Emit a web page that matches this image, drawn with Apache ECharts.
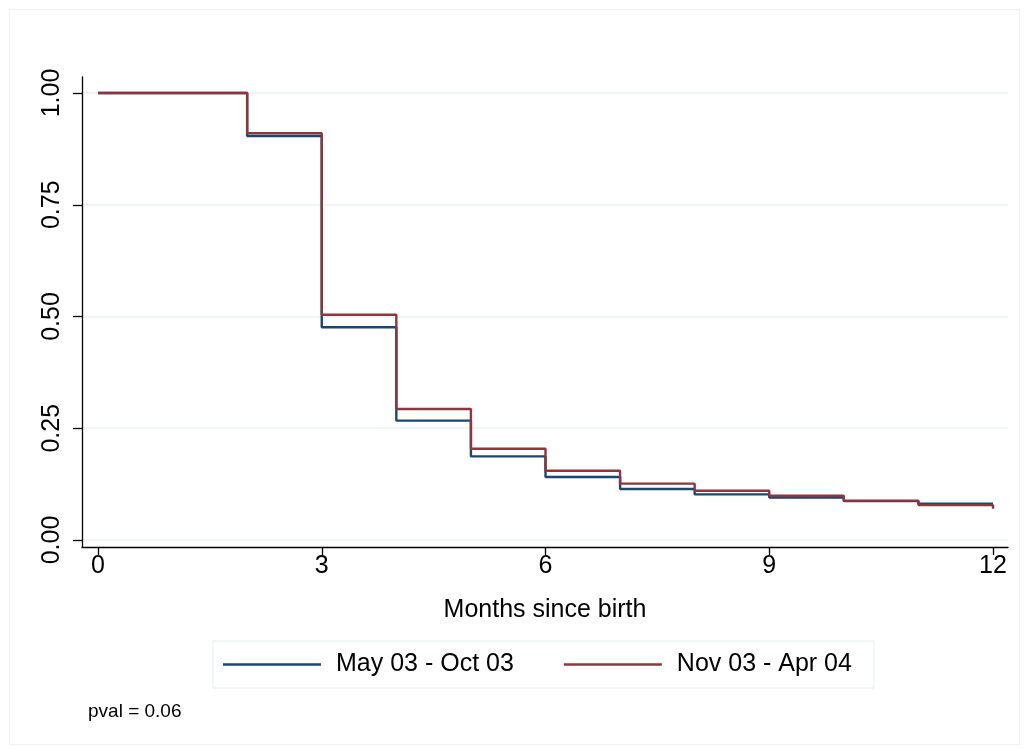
<!DOCTYPE html>
<html><head><meta charset="utf-8">
<script src="https://cdn.jsdelivr.net/npm/echarts@6/dist/echarts.min.js"></script>
<style>html,body{margin:0;padding:0;background:#fff}#c{width:1024px;height:749px}</style>
</head><body><div id="c"></div>
<script>
// ---- data ----
const months = [0, 2, 3, 4, 5, 6, 7, 8, 9, 10, 11, 12];
const seriesNames = ['May 03 - Oct 03', 'Nov 03 - Apr 04'];
const survMayOct = [1.0, 0.904, 0.476, 0.267, 0.187, 0.141, 0.114, 0.102, 0.095, 0.087, 0.081, 0.081];
const survNovApr = [1.0, 0.910, 0.504, 0.293, 0.204, 0.155, 0.126, 0.110, 0.099, 0.088, 0.078, 0.070];
const xTicks = [0, 3, 6, 9, 12];
const yTicks = [0, 0.25, 0.5, 0.75, 1];
const xTitle = 'Months since birth';
const noteText = 'pval = 0.06';

const FONT = "'Liberation Sans', Arial, Helvetica, sans-serif";
const colors = ['#1a476f', '#90353b'];
const toPairs = (xs, ys) => xs.map((x, i) => [x, ys[i]]);

const chart = echarts.init(document.getElementById('c'), null, {renderer: 'canvas'});
chart.setOption({
  animation: false,
  backgroundColor: '#ffffff',
  textStyle: {fontFamily: FONT, color: '#000'},
  grid: {left: 82, right: 16, top: 77, bottom: 202, containLabel: false},
  xAxis: {
    type: 'value',
    min: -0.2145, max: 12.201,
    name: xTitle, nameLocation: 'middle', nameGap: 51,
    nameTextStyle: {fontSize: 25, fontFamily: FONT, color: '#000'},
    axisLine: {show: true, onZero: false, lineStyle: {color: '#000', width: 1.3}},
    axisTick: {show: true, length: 8, customValues: xTicks, lineStyle: {color: '#000', width: 1.3}},
    axisLabel: {customValues: xTicks, fontSize: 25, margin: 7, color: '#000', fontFamily: FONT},
    splitLine: {show: false}
  },
  yAxis: {
    type: 'value',
    min: -0.0157, max: 1.0359,
    axisLine: {show: true, onZero: false, lineStyle: {color: '#000', width: 1.3}},
    axisTick: {show: true, length: 9, customValues: yTicks, lineStyle: {color: '#000', width: 1.3}},
    axisLabel: {customValues: yTicks, rotate: 90, fontSize: 25, margin: 17, color: '#000', fontFamily: FONT,
      formatter: v => v.toFixed(2)},
    splitLine: {show: true, lineStyle: {color: '#eaf2f3', width: 1.5}}
  },
  legend: {
    left: 213, top: 641,
    orient: 'horizontal',
    data: seriesNames,
    icon: 'rect',
    itemWidth: 98, itemHeight: 2.5,
    itemGap: 50,
    padding: [11, 22, 11, 10],
    borderColor: '#e3ecee', borderWidth: 1,
    textStyle: {fontSize: 25, fontFamily: FONT, color: '#000', padding: [0, 0, 0, 10]}
  },
  graphic: [
    {type: 'rect', left: 7, top: 7, shape: {width: 1010, height: 735},
      style: {fill: 'none', stroke: '#eef3f4', lineWidth: 1}, silent: true, z: -1},
    {type: 'text', left: 88, top: 702, style: {text: noteText, fontSize: 19, fontFamily: FONT, fill: '#000'}}
  ],
  series: [
    {name: seriesNames[0], type: 'line', step: 'end', showSymbol: false, symbol: 'none',
      data: toPairs(months, survMayOct), lineStyle: {color: colors[0], width: 2.4}, itemStyle: {color: colors[0]}},
    {name: seriesNames[1], type: 'line', step: 'end', showSymbol: false, symbol: 'none',
      data: toPairs(months, survNovApr), lineStyle: {color: colors[1], width: 2.4}, itemStyle: {color: colors[1]}}
  ]
});
</script></body></html>
